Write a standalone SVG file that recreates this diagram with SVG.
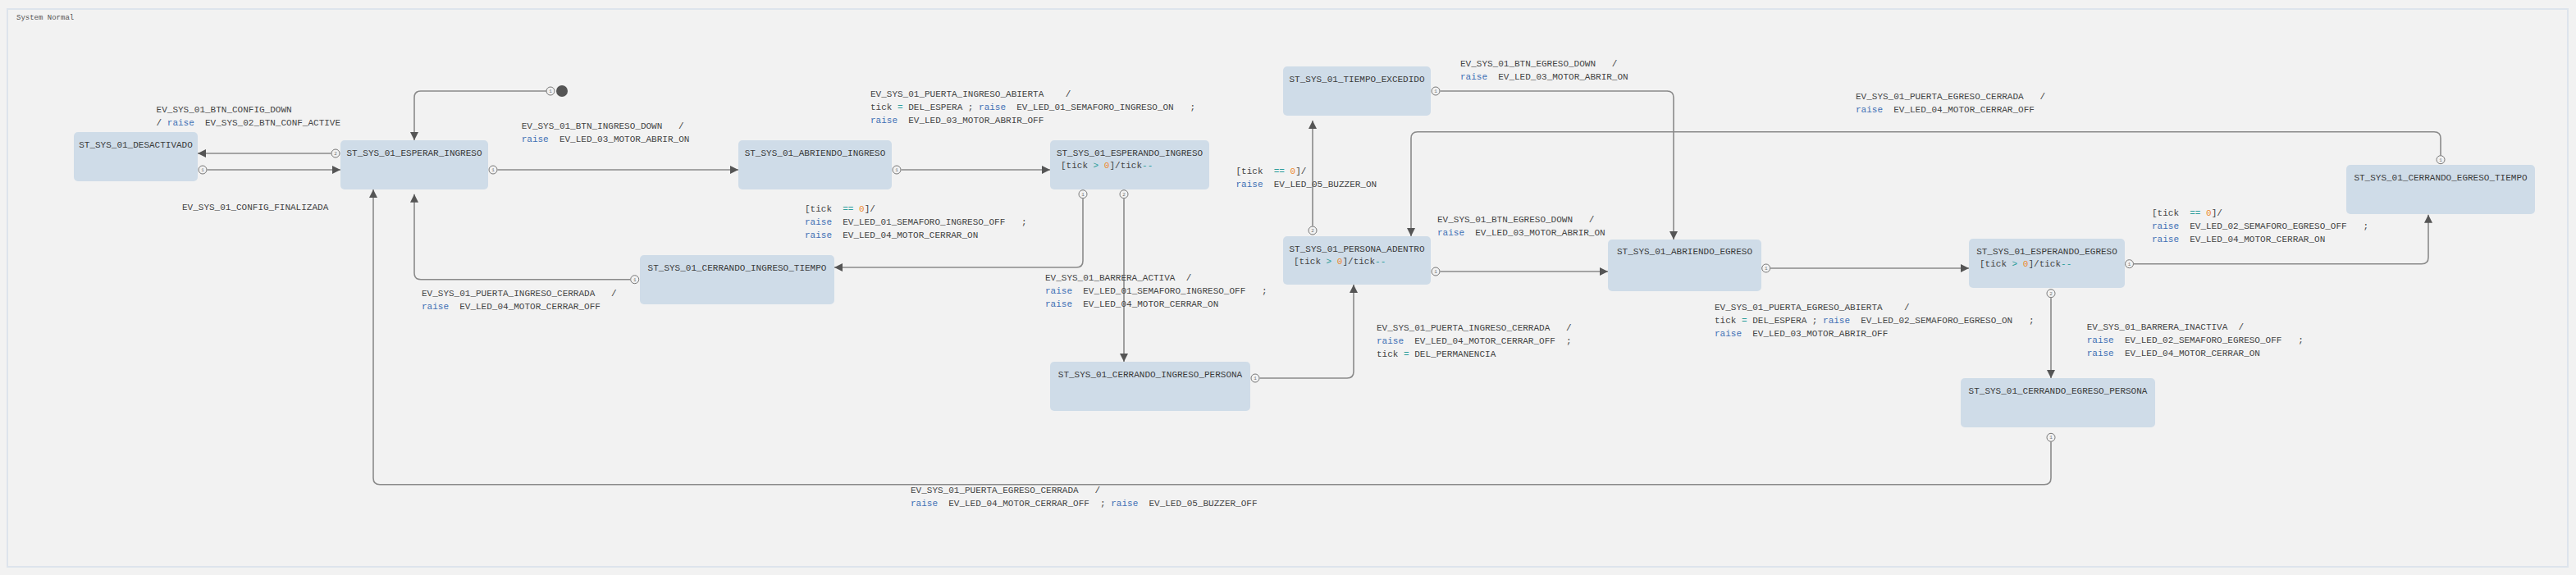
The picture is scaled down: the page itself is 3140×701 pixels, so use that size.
<svg xmlns="http://www.w3.org/2000/svg" width="3140" height="701" viewBox="0 0 3140 701">
<style>
text{font-family:"Liberation Mono","DejaVu Sans Mono",monospace;font-size:11px;fill:#444;white-space:pre}
.title{fill:#3a3a3a}
.kw{fill:#3e70b5}
.op{fill:#2b9c9a}
.num{fill:#ee8a2f}
.node{fill:#cfdce8}
.conn{fill:none;stroke:#8a8a8a;stroke-width:1.6}
.port{fill:#f2f2f2;stroke:#777;stroke-width:1}
.pn{font-size:6px;fill:#777;text-anchor:middle}
.frame-title{font-size:9px;fill:#555}
</style>
<defs>
<marker id="arr" markerUnits="userSpaceOnUse" markerWidth="11" markerHeight="10" refX="10" refY="5" orient="auto">
<path d="M0,0 L10,5 L0,10 z" fill="#555"/>
</marker>
</defs>
<rect x="0" y="0" width="3140" height="701" fill="#f2f2f2"/>
<g id="frame">
<rect x="9" y="11" width="3121" height="680" fill="#f2f2f2" stroke="#dde4ec" stroke-width="2"/>
<text class="frame-title" x="20" y="24">System Normal</text>
</g>

<g id="initial">
<circle cx="685" cy="111" r="7" fill="#555"/>
</g>

<g id="st_desactivado"><rect class="node" x="90" y="161" width="151" height="60" rx="5"/><text class="title" x="165.5" y="180" text-anchor="middle">ST_SYS_01_DESACTIVADO</text></g>
<g id="st_esperar_ingreso"><rect class="node" x="415" y="171" width="180" height="60" rx="5"/><text class="title" x="505" y="190" text-anchor="middle">ST_SYS_01_ESPERAR_INGRESO</text></g>
<g id="st_abriendo_ingreso"><rect class="node" x="900" y="171" width="187" height="60" rx="5"/><text class="title" x="993.5" y="190" text-anchor="middle">ST_SYS_01_ABRIENDO_INGRESO</text></g>
<g id="st_esperando_ingreso"><rect class="node" x="1280" y="171" width="194" height="60" rx="5"/><text class="title" x="1377" y="190" text-anchor="middle">ST_SYS_01_ESPERANDO_INGRESO</text><text x="1293" y="205">[tick <tspan class="op">&gt;</tspan> <tspan class="num">0</tspan>]/tick<tspan class="op">--</tspan></text></g>
<g id="st_tiempo_excedido"><rect class="node" x="1564" y="81" width="180" height="60" rx="5"/><text class="title" x="1654" y="100" text-anchor="middle">ST_SYS_01_TIEMPO_EXCEDIDO</text></g>
<g id="st_persona_adentro"><rect class="node" x="1564" y="288" width="180" height="59" rx="5"/><text class="title" x="1654" y="307" text-anchor="middle">ST_SYS_01_PERSONA_ADENTRO</text><text x="1577" y="322">[tick <tspan class="op">&gt;</tspan> <tspan class="num">0</tspan>]/tick<tspan class="op">--</tspan></text></g>
<g id="st_cerrando_ingreso_tiempo"><rect class="node" x="780" y="311" width="237" height="60" rx="5"/><text class="title" x="898.5" y="330" text-anchor="middle">ST_SYS_01_CERRANDO_INGRESO_TIEMPO</text></g>
<g id="st_cerrando_ingreso_persona"><rect class="node" x="1280" y="441" width="244" height="60" rx="5"/><text class="title" x="1402" y="460" text-anchor="middle">ST_SYS_01_CERRANDO_INGRESO_PERSONA</text></g>
<g id="st_abriendo_egreso"><rect class="node" x="1960" y="292" width="187" height="63" rx="5"/><text class="title" x="2053.5" y="310" text-anchor="middle">ST_SYS_01_ABRIENDO_EGRESO</text></g>
<g id="st_esperando_egreso"><rect class="node" x="2400" y="291" width="190" height="60" rx="5"/><text class="title" x="2495" y="310" text-anchor="middle">ST_SYS_01_ESPERANDO_EGRESO</text><text x="2413" y="325">[tick <tspan class="op">&gt;</tspan> <tspan class="num">0</tspan>]/tick<tspan class="op">--</tspan></text></g>
<g id="st_cerrando_egreso_tiempo"><rect class="node" x="2860" y="201" width="230" height="60" rx="5"/><text class="title" x="2975" y="220" text-anchor="middle">ST_SYS_01_CERRANDO_EGRESO_TIEMPO</text></g>
<g id="st_cerrando_egreso_persona"><rect class="node" x="2390" y="461" width="237" height="60" rx="5"/><text class="title" x="2508.5" y="480" text-anchor="middle">ST_SYS_01_CERRANDO_EGRESO_PERSONA</text></g>

<g id="connectors">
<path class="conn" marker-end="url(#arr)" d="M666,111 H513 Q505,111 505,119 V171"/>
<path class="conn" marker-end="url(#arr)" d="M403.5,187 H241"/>
<path class="conn" marker-end="url(#arr)" d="M252.5,207 H415"/>
<path class="conn" marker-end="url(#arr)" d="M606.5,207 H900"/>
<path class="conn" marker-end="url(#arr)" d="M1098.5,207 H1280"/>
<path class="conn" marker-end="url(#arr)" d="M1320,242.2 V318 Q1320,326 1312,326 H1017"/>
<path class="conn" marker-end="url(#arr)" d="M1370,242.2 V441"/>
<path class="conn" marker-end="url(#arr)" d="M768.2,340.7 H513 Q505,340.7 505,332.7 V236.7"/>
<path class="conn" marker-end="url(#arr)" d="M2500,538.8 V582.7 Q2500,590.7 2492,590.7 H463 Q455,590.7 455,582.7 V231"/>
<path class="conn" marker-end="url(#arr)" d="M1535.5,461 H1642 Q1650,461 1650,453 V347"/>
<path class="conn" marker-end="url(#arr)" d="M1600,275.5 V147"/>
<path class="conn" marker-end="url(#arr)" d="M1755.5,111 H2032 Q2040,111 2040,119 V292"/>
<path class="conn" marker-end="url(#arr)" d="M1755.5,331 H1960"/>
<path class="conn" marker-end="url(#arr)" d="M2975,189.2 V168.7 Q2975,160.7 2967,160.7 H1728 Q1720,160.7 1720,168.7 V288"/>
<path class="conn" marker-end="url(#arr)" d="M2158.2,327 H2400"/>
<path class="conn" marker-end="url(#arr)" d="M2601,321.7 H2952 Q2960,321.7 2960,313.7 V261.7"/>
<path class="conn" marker-end="url(#arr)" d="M2500,363.2 V461"/>

<g id="ports">
<circle class="port" cx="671" cy="111" r="5"/><text class="pn" x="671" y="113">1</text>
<circle class="port" cx="409" cy="187" r="5"/><text class="pn" x="409" y="189">2</text>
<circle class="port" cx="247" cy="207" r="5"/><text class="pn" x="247" y="209">1</text>
<circle class="port" cx="601" cy="207" r="5"/><text class="pn" x="601" y="209">1</text>
<circle class="port" cx="1093" cy="207" r="5"/><text class="pn" x="1093" y="209">1</text>
<circle class="port" cx="1320" cy="236.7" r="5"/><text class="pn" x="1320" y="238.7">1</text>
<circle class="port" cx="1370" cy="236.7" r="5"/><text class="pn" x="1370" y="238.7">2</text>
<circle class="port" cx="773.7" cy="340.7" r="5"/><text class="pn" x="773.7" y="342.7">1</text>
<circle class="port" cx="2500" cy="533.3" r="5"/><text class="pn" x="2500" y="535.3">1</text>
<circle class="port" cx="1530" cy="461" r="5"/><text class="pn" x="1530" y="463">1</text>
<circle class="port" cx="1600" cy="281" r="5"/><text class="pn" x="1600" y="283">2</text>
<circle class="port" cx="1750" cy="111" r="5"/><text class="pn" x="1750" y="113">1</text>
<circle class="port" cx="1750" cy="331" r="5"/><text class="pn" x="1750" y="333">1</text>
<circle class="port" cx="2975" cy="194.7" r="5"/><text class="pn" x="2975" y="196.7">1</text>
<circle class="port" cx="2152.7" cy="327" r="5"/><text class="pn" x="2152.7" y="329">1</text>
<circle class="port" cx="2595.5" cy="321.7" r="5"/><text class="pn" x="2595.5" y="323.7">1</text>
<circle class="port" cx="2500" cy="357.7" r="5"/><text class="pn" x="2500" y="359.7">2</text>
</g>

<g id="labels">
<text x="190.6" y="137">EV_SYS_01_BTN_CONFIG_DOWN</text>
<text x="190.6" y="153">/ <tspan class="kw">raise</tspan>  EV_SYS_02_BTN_CONF_ACTIVE</text>

<text x="222" y="256">EV_SYS_01_CONFIG_FINALIZADA</text>

<text x="635.7" y="157">EV_SYS_01_BTN_INGRESO_DOWN   /</text>
<text x="635.7" y="173"><tspan class="kw">raise</tspan>  EV_LED_03_MOTOR_ABRIR_ON</text>

<text x="1061" y="118">EV_SYS_01_PUERTA_INGRESO_ABIERTA    /</text>
<text x="1061" y="134">tick <tspan class="op">=</tspan> DEL_ESPERA ; <tspan class="kw">raise</tspan>  EV_LED_01_SEMAFORO_INGRESO_ON   ;</text>
<text x="1061" y="150"><tspan class="kw">raise</tspan>  EV_LED_03_MOTOR_ABRIR_OFF</text>

<text x="981" y="258">[tick  <tspan class="op">==</tspan> <tspan class="num">0</tspan>]/</text>
<text x="981" y="274"><tspan class="kw">raise</tspan>  EV_LED_01_SEMAFORO_INGRESO_OFF   ;</text>
<text x="981" y="290"><tspan class="kw">raise</tspan>  EV_LED_04_MOTOR_CERRAR_ON</text>

<text x="1274" y="342">EV_SYS_01_BARRERA_ACTIVA  /</text>
<text x="1274" y="358"><tspan class="kw">raise</tspan>  EV_LED_01_SEMAFORO_INGRESO_OFF   ;</text>
<text x="1274" y="374"><tspan class="kw">raise</tspan>  EV_LED_04_MOTOR_CERRAR_ON</text>

<text x="514" y="361">EV_SYS_01_PUERTA_INGRESO_CERRADA   /</text>
<text x="514" y="377"><tspan class="kw">raise</tspan>  EV_LED_04_MOTOR_CERRAR_OFF</text>

<text x="1110" y="601">EV_SYS_01_PUERTA_EGRESO_CERRADA   /</text>
<text x="1110" y="617"><tspan class="kw">raise</tspan>  EV_LED_04_MOTOR_CERRAR_OFF  ; <tspan class="kw">raise</tspan>  EV_LED_05_BUZZER_OFF</text>

<text x="1678" y="403">EV_SYS_01_PUERTA_INGRESO_CERRADA   /</text>
<text x="1678" y="419"><tspan class="kw">raise</tspan>  EV_LED_04_MOTOR_CERRAR_OFF  ;</text>
<text x="1678" y="435">tick <tspan class="op">=</tspan> DEL_PERMANENCIA</text>

<text x="1506.5" y="212">[tick  <tspan class="op">==</tspan> <tspan class="num">0</tspan>]/</text>
<text x="1506.5" y="228"><tspan class="kw">raise</tspan>  EV_LED_05_BUZZER_ON</text>

<text x="1780" y="81">EV_SYS_01_BTN_EGRESO_DOWN   /</text>
<text x="1780" y="97"><tspan class="kw">raise</tspan>  EV_LED_03_MOTOR_ABRIR_ON</text>

<text x="1752" y="271">EV_SYS_01_BTN_EGRESO_DOWN   /</text>
<text x="1752" y="287"><tspan class="kw">raise</tspan>  EV_LED_03_MOTOR_ABRIR_ON</text>

<text x="2262" y="121">EV_SYS_01_PUERTA_EGRESO_CERRADA   /</text>
<text x="2262" y="137"><tspan class="kw">raise</tspan>  EV_LED_04_MOTOR_CERRAR_OFF</text>

<text x="2090" y="378">EV_SYS_01_PUERTA_EGRESO_ABIERTA    /</text>
<text x="2090" y="394">tick <tspan class="op">=</tspan> DEL_ESPERA ; <tspan class="kw">raise</tspan>  EV_LED_02_SEMAFORO_EGRESO_ON   ;</text>
<text x="2090" y="410"><tspan class="kw">raise</tspan>  EV_LED_03_MOTOR_ABRIR_OFF</text>

<text x="2623" y="263">[tick  <tspan class="op">==</tspan> <tspan class="num">0</tspan>]/</text>
<text x="2623" y="279"><tspan class="kw">raise</tspan>  EV_LED_02_SEMAFORO_EGRESO_OFF   ;</text>
<text x="2623" y="295"><tspan class="kw">raise</tspan>  EV_LED_04_MOTOR_CERRAR_ON</text>

<text x="2543.7" y="402">EV_SYS_01_BARRERA_INACTIVA  /</text>
<text x="2543.7" y="418"><tspan class="kw">raise</tspan>  EV_LED_02_SEMAFORO_EGRESO_OFF   ;</text>
<text x="2543.7" y="434"><tspan class="kw">raise</tspan>  EV_LED_04_MOTOR_CERRAR_ON</text>
</g>
</g>
</svg>
